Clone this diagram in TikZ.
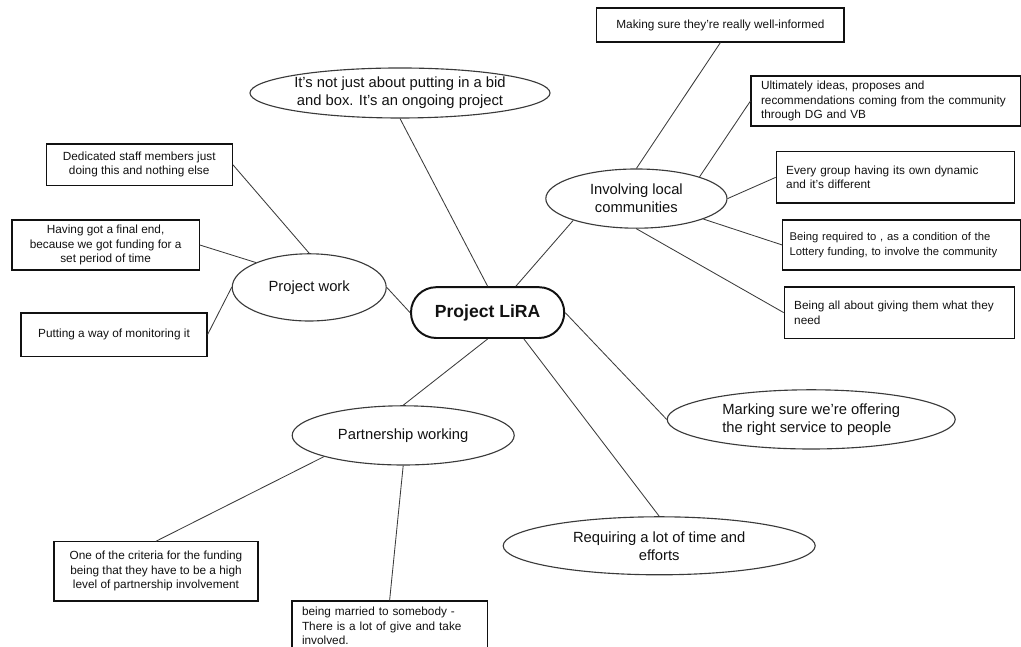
\documentclass[tikz,border=0pt]{standalone}
\usepackage{fontspec}
\setmainfont{Liberation Sans}
\usetikzlibrary{shapes.geometric}
\definecolor{MapInk}{HTML}{111111}
\definecolor{MapLine}{HTML}{3A3A3A}
\tikzset{
  mapsmall/.style={font=\fontsize{8.4}{10.3}\selectfont, text=MapInk},
  mapmid/.style={font=\fontsize{10.5}{12.8}\selectfont, text=MapInk},
  hubnode/.style={draw=MapInk, line width=1.4pt, rounded corners=0.63cm, minimum width=3.83cm, minimum height=1.27cm, font=\fontsize{12.5}{15}\selectfont\bfseries, text=MapInk},
  themenode/.style={mapmid, ellipse, draw=MapLine, line width=0.8pt, inner sep=0pt, align=center},
  notebox/.style={mapsmall, rectangle, draw=MapInk, line width=0.8pt, align=center, inner sep=0pt},
  noteleft/.style={mapsmall, rectangle, draw=MapInk, line width=0.8pt, align=left, inner xsep=0.25cm, inner ysep=0pt},
  mapedge/.style={draw=MapLine, line width=0.6pt}
}

\begin{document}
\begin{tikzpicture}
\useasboundingbox (0,0) rectangle (25.525,16.175);
\node[hubnode] (lira) at (12.19,8.36) {Project LiRA};
\node[themenode, minimum width=7.5cm, minimum height=1.25cm] (bid) at (10.0,13.85) {It's not just about putting in a bid\\and box. It's an ongoing project};
\node[themenode, minimum width=4.53cm, minimum height=1.48cm] (inv) at (15.91,11.21) {Involving local\\communities};
\node[themenode, minimum width=3.85cm, minimum height=1.68cm] (pw) at (7.73,8.99) {Project work};
\node[themenode, minimum width=5.55cm, minimum height=1.48cm] (part) at (10.08,5.29) {Partnership working};
\node[themenode, align=left, minimum width=7.2cm, minimum height=1.48cm] (mark) at (20.28,5.69) {Marking sure we're offering\\the right service to people};
\node[themenode, minimum width=7.8cm, minimum height=1.45cm] (req) at (16.48,2.53) {Requiring a lot of time and\\efforts};
\node[notebox, minimum width=6.18cm, minimum height=0.85cm] (wellinf) at (18.01,15.55) {Making sure they're really well-informed};
\node[noteleft, text width=6.23cm, minimum height=1.25cm] (ideas) at (22.14,13.65) {Ultimately ideas, proposes and\\recommendations coming from the community\\through DG and VB};
\node[noteleft, text width=5.45cm, minimum height=1.28cm] (dyn) at (22.38,11.74) {Every group having its own dynamic\\and it's different};
\node[noteleft, font=\fontsize{8}{10.3}\selectfont, inner xsep=0.17cm, text width=5.6cm, minimum height=1.25cm] (cond) at (22.54,10.05) {Being required to , as a condition of the\\Lottery funding, to involve the community};
\node[noteleft, text width=5.25cm, minimum height=1.28cm] (need) at (22.48,8.36) {Being all about giving them what they\\need};
\node[notebox, minimum width=4.65cm, minimum height=1.03cm] (staff) at (3.48,12.06) {Dedicated staff members just\\doing this and nothing else};
\node[notebox, minimum width=4.68cm, minimum height=1.25cm] (finalend) at (2.64,10.05) {Having got a final end,\\because we got funding for a\\set period of time};
\node[notebox, minimum width=4.65cm, minimum height=1.08cm] (monit) at (2.85,7.81) {Putting a way of monitoring it};
\node[notebox, minimum width=5.1cm, minimum height=1.48cm] (crit) at (3.9,1.89) {One of the criteria for the funding\\being that they have to be a high\\level of partnership involvement};
\node[noteleft, text width=4.38cm, minimum height=1.25cm] (married) at (9.74,0.525) {being married to somebody -\\There is a lot of give and take\\involved.};
\draw[mapedge] (wellinf.south) -- (inv.north);
\draw[mapedge] (ideas.west) -- (inv.19);
\draw[mapedge] (dyn.west) -- (inv.east);
\draw[mapedge] (cond.west) -- (inv.-17);
\draw[mapedge] (need.west) -- (inv.south);
\draw[mapedge] (inv.199) -- (lira.43);
\draw[mapedge] (bid.south) -- (lira.north);
\draw[mapedge] (pw.east) -- (lira.west);
\draw[mapedge] (staff.east) -- (pw.north);
\draw[mapedge] (finalend.east) -- (pw.155);
\draw[mapedge] (monit.east) -- (pw.west);
\draw[mapedge] (lira.south) -- (part.north);
\draw[mapedge] (crit.north) -- (part.195);
\draw[mapedge] (married.north) -- (part.south);
\draw[mapedge] (lira.-36) -- (req.north);
\draw[mapedge] (lira.east) -- (mark.west);
\end{tikzpicture}
\end{document}
